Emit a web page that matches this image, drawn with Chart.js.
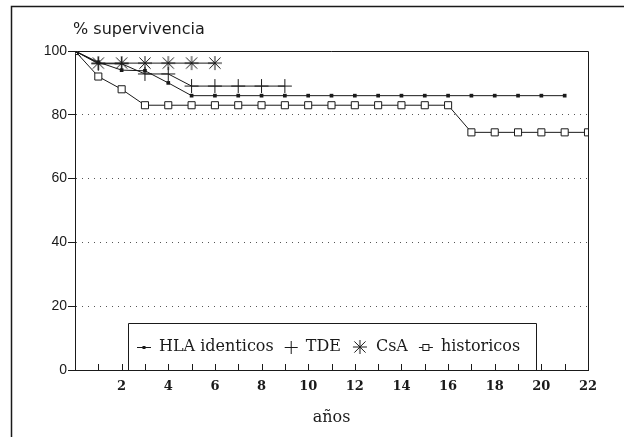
<!DOCTYPE html>
<html>
<head>
<meta charset="utf-8">
<script src="https://cdn.jsdelivr.net/npm/chart.js@4.4.1/dist/chart.umd.min.js"></script>
<style>
  html, body { margin: 0; padding: 0; background: #fff; }
  #caja { width: 624px; height: 437px; }
</style>
</head>
<body>
<div id="caja"><canvas id="graficoSupervivencia"></canvas></div>
<script>
// datos
const anos = [0, 1, 2, 3, 4, 5, 6, 7, 8, 9, 10, 11, 12, 13, 14, 15, 16, 17, 18, 19, 20, 21, 22];
const hlaIdenticos = [100, 96.5, 94, 93.8, 90, 86, 86, 86, 86, 86, 86, 86, 86, 86, 86, 86, 86, 86, 86, 86, 86, 86];
const tde = [100, 96, 96, 92.8, 92.8, 89, 89, 89, 89, 89];
const csa = [100, 96.2, 96.2, 96.2, 96.2, 96.2, 96.2];
const historicos = [100, 92, 88, 83, 83, 83, 83, 83, 83, 83, 83, 83, 83, 83, 83, 83, 83, 74.5, 74.5, 74.5, 74.5, 74.5, 74.5];
const nombres = ['HLA identicos', 'TDE', 'CsA', 'historicos'];
const ticksY = [0, 20, 40, 60, 80, 100];

const tinta = '#1a1a1a';

function puntos(serie) {
    return serie.map((v, i) => ({ x: anos[i], y: v }));
}

// asterisco de 8 brazos como el de la figura
function hacerAsterisco(r) {
    const c = document.createElement('canvas');
    c.width = c.height = 2 * r + 2;
    const g = c.getContext('2d');
    const m = r + 1;
    const d = r * 0.8;
    g.strokeStyle = tinta;
    g.lineWidth = 1;
    g.beginPath();
    g.moveTo(m - r, m); g.lineTo(m + r, m);
    g.moveTo(m, m - r); g.lineTo(m, m + r);
    g.moveTo(m - d, m - d); g.lineTo(m + d, m + d);
    g.moveTo(m - d, m + d); g.lineTo(m + d, m - d);
    g.stroke();
    return c;
}
const asterisco = hacerAsterisco(7);

// marco exterior, borde del area, marcas interiores, titulo y leyenda
const decoracion = {
    id: 'decoracion',
    beforeDraw(chart) {
        const ctx = chart.ctx;
        ctx.save();
        ctx.fillStyle = '#fff';
        ctx.fillRect(0, 0, chart.width, chart.height);
        ctx.strokeStyle = tinta;
        ctx.lineWidth = 1.5;
        ctx.strokeRect(11.5, 6.5, 1000, 1000);
        ctx.restore();
    },
    beforeDatasetsDraw(chart) {
        const ctx = chart.ctx;
        const area = chart.chartArea;
        const x = chart.scales.x;
        ctx.save();
        ctx.strokeStyle = tinta;
        ctx.lineWidth = 1;
        ctx.beginPath();
        ctx.moveTo(area.left, area.top + 0.5);
        ctx.lineTo(area.right + 0.5, area.top + 0.5);
        ctx.lineTo(area.right + 0.5, area.bottom);
        ctx.stroke();
        // marcas hacia dentro en cada año
        ctx.beginPath();
        for (let a = 1; a < 22; a++) {
            const px = Math.round(x.getPixelForValue(a)) + 0.5;
            ctx.moveTo(px, area.bottom);
            ctx.lineTo(px, area.bottom - 6);
        }
        ctx.stroke();

        ctx.fillStyle = tinta;
        ctx.font = '16px "DejaVu Sans"';
        ctx.textBaseline = 'middle';
        ctx.textAlign = 'left';
        ctx.fillText('% supervivencia', 73, 30);

        // leyenda
        const arriba = 323.5, abajo = area.bottom, izq = 128.5, der = 536.5;
        ctx.beginPath();
        ctx.moveTo(izq, abajo);
        ctx.lineTo(izq, arriba);
        ctx.lineTo(der, arriba);
        ctx.lineTo(der, abajo);
        ctx.stroke();

        ctx.font = '16px "DejaVu Serif"';
        const yc = 347;
        let px = 137;
        chart.data.datasets.forEach((ds, i) => {
            if (i === 0 || i === 3) {
                ctx.beginPath();
                ctx.moveTo(px, yc + 0.5);
                ctx.lineTo(px + 14, yc + 0.5);
                ctx.stroke();
                const s = i === 0 ? 3 : 6;
                ctx.fillStyle = i === 0 ? tinta : '#fff';
                ctx.fillRect(px + 7 - s / 2, yc + 0.5 - s / 2, s, s);
                if (i === 3) ctx.strokeRect(px + 7 - s / 2, yc + 0.5 - s / 2, s, s);
                px += 14;
            } else if (i === 1) {
                ctx.beginPath();
                ctx.moveTo(px, yc + 0.5);
                ctx.lineTo(px + 13, yc + 0.5);
                ctx.moveTo(px + 6.5, yc - 6);
                ctx.lineTo(px + 6.5, yc + 7);
                ctx.stroke();
                px += 13;
            } else {
                ctx.drawImage(asterisco, px, Math.round(yc - asterisco.height / 2));
                px += asterisco.width;
            }
            px += 8;
            ctx.fillStyle = tinta;
            ctx.fillText(ds.label, px, yc);
            px += ctx.measureText(ds.label).width + 11;
        });
        ctx.restore();
    }
};

const contexto = document.getElementById('graficoSupervivencia');

const graficoSupervivencia = new Chart(contexto, {
    type: 'line',
    data: {
        datasets: [{
            label: nombres[0],
            data: puntos(hlaIdenticos),
            borderColor: tinta,
            borderWidth: 1,
            pointStyle: 'rect',
            pointRadius: 2.6,
            pointBackgroundColor: tinta,
            pointBorderColor: tinta,
            pointBorderWidth: 0
        }, {
            label: nombres[1],
            data: puntos(tde),
            borderColor: tinta,
            borderWidth: 1,
            pointStyle: 'cross',
            pointRadius: 7,
            pointBorderColor: tinta,
            pointBorderWidth: 1
        }, {
            label: nombres[2],
            data: puntos(csa),
            borderColor: tinta,
            borderWidth: 1,
            pointStyle: asterisco,
            pointRadius: 7
        }, {
            label: nombres[3],
            data: puntos(historicos),
            borderColor: tinta,
            borderWidth: 1,
            pointStyle: 'rect',
            pointRadius: 5,
            pointBackgroundColor: '#fff',
            pointBorderColor: tinta,
            pointBorderWidth: 1
        }]
    },
    options: {
        responsive: true,
        maintainAspectRatio: false,
        animation: false,
        devicePixelRatio: 1,
        layout: { padding: { top: 51, right: 36, left: 0, bottom: 0 } },
        plugins: {
            legend: { display: false },
            tooltip: { enabled: false }
        },
        scales: {
            x: {
                type: 'linear',
                min: 0,
                max: 22,
                afterFit: (s) => { s.height = 67; },
                ticks: {
                    stepSize: 2,
                    padding: 9,
                    color: tinta,
                    font: { family: 'DejaVu Serif', size: 13, weight: 'bold' },
                    callback: (v) => v === 0 ? '' : v
                },
                grid: { drawOnChartArea: false, drawTicks: false },
                border: { color: tinta, width: 1 },
                title: {
                    display: true,
                    text: 'años',
                    color: tinta,
                    font: { family: 'DejaVu Serif', size: 16 },
                    padding: { top: 0, bottom: 10 }
                }
            },
            y: {
                min: 0,
                max: 100,
                afterFit: (s) => { s.width = 75; },
                afterBuildTicks: (s) => { s.ticks = ticksY.map(v => ({ value: v })); },
                ticks: {
                    padding: 1,
                    color: tinta,
                    font: { family: 'Liberation Sans', size: 14 }
                },
                grid: {
                    color: (c) => (c.tick && (c.tick.value === 0 || c.tick.value === 100)) ? 'rgba(0,0,0,0)' : '#555',
                    tickColor: tinta,
                    tickLength: 7,
                    lineWidth: 1
                },
                border: { color: tinta, width: 1, dash: [1, 5] }
            }
        }
    },
    plugins: [decoracion]
});
</script>
</body>
</html>
